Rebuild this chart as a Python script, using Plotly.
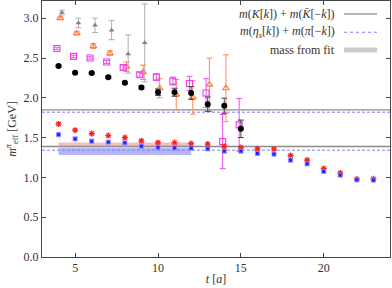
import plotly.graph_objects as go

# ---- data ----
t_black = [4, 5, 6, 7, 8, 9, 10, 11, 12, 13, 14, 15]
m_black = [2.40, 2.316, 2.31, 2.258, 2.19, 2.13, 2.07, 2.07, 2.06, 1.92, 1.90, 1.61]
e_black = [0.01, 0.01, 0.01, 0.015, 0.015, 0.02, 0.04, 0.05, 0.08, 0.09, 0.095, 0.11]

t_mag = [4, 5, 6, 7, 8, 9, 10, 11, 12, 13, 14, 15]
m_mag = [2.62, 2.52, 2.50, 2.45, 2.38, 2.29, 2.26, 2.21, 2.18, 2.06, 1.45, 1.66]
e_mag = [0.015, 0.015, 0.015, 0.02, 0.03, 0.03, 0.04, 0.05, 0.09, 0.18, 0.34, 0.33]

t_orange = [4, 5, 6, 7, 8, 9, 10, 11, 12, 13, 14]
m_orange = [3.00, 2.81, 2.65, 2.56, 2.39, 2.32, 2.12, 2.04, 2.005, 2.165, 2.12]
e_orange = [0.015, 0.02, 0.03, 0.03, 0.06, 0.09, 0.12, 0.19, 0.21, 0.335, 0.42]

t_gray = [4, 5, 6, 7, 8, 9]
m_gray = [3.07, 2.94, 2.91, 2.85, 2.55, 2.69]
e_gray = [0.03, 0.06, 0.09, 0.12, 0.24, 0.49]

t_red = list(range(4, 24))
m_red = [1.672, 1.593, 1.551, 1.526, 1.50, 1.459, 1.436, 1.438, 1.425, 1.418,
         1.388, 1.375, 1.359, 1.355, 1.275, 1.217, 1.112, 1.054, 0.979, 0.982]

t_blue = list(range(4, 24))
m_blue = [1.538, 1.484, 1.455, 1.443, 1.434, 1.392, 1.376, 1.372, 1.367, 1.359,
          1.33, 1.33, 1.30, 1.292, 1.217, 1.171, 1.074, 1.029, 0.97, 0.966]

x_full = [3, 24]
kk_levels = [1.848, 1.388]      # m(K[k]) + m(Kbar[-k])
etapi_levels = [1.819, 1.342]   # m(eta_s[k]) + m(pi[-k])

fit_t = [4, 12]
fit_red = 1.413
fit_red_err = 0.025
fit_blue = 1.328
fit_blue_err = 0.046

offsets = {"mag": -0.1, "orange": 0.1, "gray": 0.2}

fig = go.Figure()

# fit bands
for c, e, col in [(fit_red, fit_red_err, "rgba(238,110,110,0.45)"),
                  (fit_blue, fit_blue_err, "rgba(110,110,240,0.5)")]:
    fig.add_trace(go.Scatter(x=[fit_t[0], fit_t[1], fit_t[1], fit_t[0]],
                             y=[c - e, c - e, c + e, c + e], fill="toself",
                             fillcolor=col, line=dict(width=0), mode="lines",
                             hoverinfo="skip", showlegend=False))

# horizontal reference lines
for lv in kk_levels:
    fig.add_trace(go.Scatter(x=x_full, y=[lv, lv], mode="lines",
                             line=dict(color="#8c8c8c", width=1.3), showlegend=False))
for lv in etapi_levels:
    fig.add_trace(go.Scatter(x=x_full, y=[lv, lv], mode="lines",
                             line=dict(color="#7f7fff", width=1, dash="3px,2px"),
                             showlegend=False))

def sh(ts, d):
    return [v + d for v in ts]

fig.add_trace(go.Scatter(x=sh(t_gray, offsets["gray"]), y=m_gray, mode="markers",
                         marker=dict(symbol="triangle-up", size=5, color="#808080"),
                         error_y=dict(array=e_gray, color="#b0b0b0", thickness=1, width=3),
                         showlegend=False))
fig.add_trace(go.Scatter(x=sh(t_orange, offsets["orange"]), y=m_orange, mode="markers",
                         marker=dict(symbol="triangle-up-open", size=6, color="#ff7a3d",
                                     line=dict(width=1.1)),
                         error_y=dict(array=e_orange, color="#ff8a50", thickness=1, width=3),
                         showlegend=False))
fig.add_trace(go.Scatter(x=sh(t_mag, offsets["mag"]), y=m_mag, mode="markers",
                         marker=dict(symbol="square-open", size=6, color="#f03cf0",
                                     line=dict(width=1.1)),
                         error_y=dict(array=e_mag, color="#f050f0", thickness=1, width=3),
                         showlegend=False))
fig.add_trace(go.Scatter(x=t_black, y=m_black, mode="markers",
                         marker=dict(symbol="circle", size=6, color="black"),
                         error_y=dict(array=e_black, color="#444", thickness=1, width=3),
                         showlegend=False))
fig.add_trace(go.Scatter(x=t_red, y=m_red, mode="markers",
                         marker=dict(symbol="asterisk-open", size=5, color="#ff2020",
                                     line=dict(width=1.3, color="#ff3030")),
                         showlegend=False))
fig.add_trace(go.Scatter(x=t_blue, y=m_blue, mode="markers",
                         marker=dict(symbol="square", size=4, color="#2020ff",
                                     line=dict(width=1.2, color="rgba(140,140,255,0.7)")),
                         showlegend=False))

font = dict(family="Liberation Serif, DejaVu Serif, serif", size=12, color="#333")

# legend drawn manually (text right, sample on the right)
leg_rows = [
    ("<i>m</i>(<i>K</i>[<i>k</i>]) + <i>m</i>(<i>K̄</i>[−<i>k</i>])",
     dict(color="#9a9a9a", width=1.5), 0.949),
    ("<i>m</i>(<i>η<sub>s</sub></i>[<i>k</i>]) + <i>m</i>(<i>π</i>[−<i>k</i>])",
     dict(color="#8080ff", width=1.2, dash="dot"), 0.878),
    ("mass from fit", dict(color="#cccccc", width=5), 0.809),
]
for txt, ln, yy in leg_rows:
    fig.add_annotation(x=0.848, y=yy, xref="paper", yref="paper", text=txt,
                       showarrow=False, xanchor="right", yanchor="middle",
                       font=dict(family=font["family"], size=12, color="#333"))
    fig.add_shape(type="line", xref="paper", yref="paper", x0=0.868, x1=0.963,
                  y0=yy, y1=yy, line=ln)

axis_common = dict(showgrid=False, zeroline=False, showline=True, linecolor="#444",
                   linewidth=1, mirror="ticks", ticks="inside", ticklen=4,
                   tickcolor="#444", tickfont=font, automargin=False)

fig.update_layout(
    width=392, height=288,
    margin=dict(l=42, r=2, t=1, b=31),
    paper_bgcolor="white", plot_bgcolor="white",
    xaxis=dict(range=[3, 24], tickvals=[5, 10, 15, 20],
               title=dict(text="<i>t</i> [<i>a</i>]", font=font, standoff=0),
               **axis_common),
    yaxis=dict(range=[0, 3.216], tickvals=[0, 0.5, 1.0, 1.5, 2.0, 2.5, 3.0],
               tickformat=".1f",
               title=dict(text="<i>m</i><sup><i>π</i></sup><sub>eff</sub> [GeV]",
                          font=font, standoff=4),
               **axis_common),
    showlegend=False,
)

fig.write_html("out.html", config={"displayModeBar": False},
               post_script="document.body.style.margin='0';document.body.style.padding='0';document.body.style.overflow='hidden';")
